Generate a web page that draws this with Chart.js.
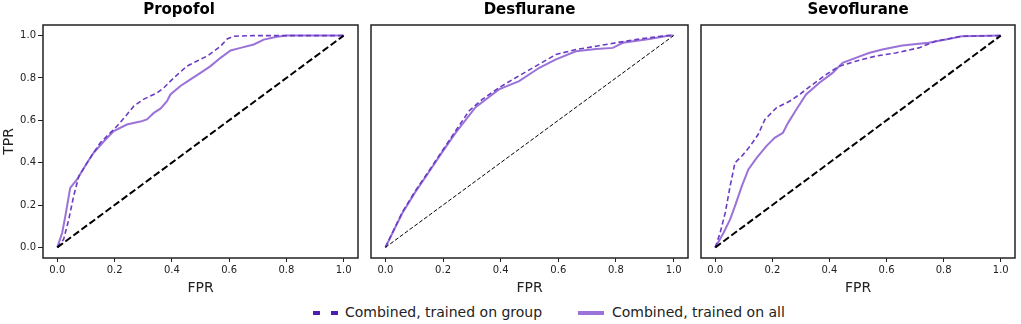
<!DOCTYPE html>
<html>
<head>
<meta charset="utf-8">
<script src="https://cdn.jsdelivr.net/npm/chart.js@4/dist/chart.umd.min.js"></script>
<style>
  html, body { margin:0; padding:0; background:#fff; }
  body { width:1021px; height:324px; position:relative; overflow:hidden; font-family:'DejaVu Sans', sans-serif; }
  .panel { position:absolute; top:0; height:300px; }
  .legend { position:absolute; top:302px; left:0; width:1021px; height:20px; font-size:14px; color:#222; }
  .sw { position:absolute; top:9px; height:4px; }
  .lbl { position:absolute; top:0; line-height:20px; white-space:nowrap; }
</style>
</head>
<body>
<div class="panel" style="left:0;width:362px"><canvas id="c1"></canvas></div>
<div class="panel" style="left:362px;width:330px"><canvas id="c2"></canvas></div>
<div class="panel" style="left:692px;width:329px"><canvas id="c3"></canvas></div>
<div class="legend">
  <div class="sw" style="left:313px;width:7px;background:#4b1faf"></div>
  <div class="sw" style="left:331px;width:7px;background:#4b1faf"></div>
  <div class="lbl" style="left:345px">Combined, trained on group</div>
  <div class="sw" style="left:578px;width:26px;background:#9b72d8"></div>
  <div class="lbl" style="left:612px">Combined, trained on all</div>
</div>
<script>
// ROC curves, [FPR, TPR]
const panelTitles = ['Propofol', 'Desflurane', 'Sevoflurane'];
const axisTicks = [0, 0.2, 0.4, 0.6, 0.8, 1.0];
const chance = [[0, 0], [1, 1]];

const propofolGroup = [[0,0],[0.022,0.038],[0.040,0.132],[0.057,0.242],[0.075,0.336],[0.086,0.36],[0.115,0.423],
  [0.150,0.494],[0.185,0.541],[0.208,0.572],[0.243,0.627],[0.267,0.667],[0.302,0.70],[0.349,0.73],[0.372,0.754],
  [0.407,0.801],[0.453,0.856],[0.488,0.88],[0.523,0.903],[0.547,0.927],[0.570,0.95],[0.593,0.984],[0.616,0.997],
  [0.686,1.0],[1,1]];
const propofolAll = [[0,0],[0.017,0.069],[0.028,0.148],[0.045,0.281],[0.069,0.321],[0.086,0.36],[0.104,0.40],
  [0.127,0.447],[0.162,0.50],[0.197,0.549],[0.243,0.58],[0.290,0.594],[0.313,0.604],[0.337,0.635],[0.36,0.655],
  [0.383,0.69],[0.395,0.722],[0.430,0.762],[0.465,0.793],[0.500,0.824],[0.535,0.856],[0.570,0.895],[0.605,0.930],
  [0.640,0.942],[0.686,0.958],[0.721,0.981],[0.767,0.994],[0.802,1.0],[1,1]];

const desfluraneGroup = [[0,0],[0.058,0.165],[0.104,0.267],[0.151,0.361],[0.197,0.455],[0.244,0.551],[0.290,0.644],
  [0.336,0.699],[0.394,0.754],[0.452,0.801],[0.522,0.856],[0.592,0.911],[0.661,0.934],[0.731,0.950],[0.800,0.966],
  [0.882,0.984],[0.974,1.0],[1,1]];
const desfluraneAll = [[0,0],[0.058,0.160],[0.104,0.262],[0.151,0.356],[0.197,0.450],[0.244,0.542],[0.313,0.662],
  [0.394,0.746],[0.464,0.785],[0.534,0.848],[0.592,0.888],[0.661,0.926],[0.731,0.937],[0.789,0.942],[0.824,0.966],
  [0.916,0.984],[0.986,1.0],[1,1]];

const sevofluraneGroup = [[0,0],[0.017,0.069],[0.035,0.164],[0.052,0.289],[0.069,0.40],[0.093,0.431],[0.122,0.478],
  [0.150,0.533],[0.174,0.604],[0.214,0.659],[0.260,0.69],[0.295,0.722],[0.341,0.769],[0.388,0.816],[0.434,0.855],
  [0.492,0.879],[0.562,0.903],[0.632,0.918],[0.713,0.942],[0.771,0.973],[0.863,0.997],[1,1]];
const sevofluraneAll = [[0,0],[0.029,0.069],[0.052,0.132],[0.069,0.195],[0.093,0.289],[0.116,0.368],[0.145,0.423],
  [0.179,0.478],[0.208,0.517],[0.237,0.541],[0.255,0.588],[0.284,0.651],[0.318,0.722],[0.365,0.777],[0.411,0.824],
  [0.446,0.871],[0.492,0.895],[0.538,0.918],[0.585,0.934],[0.655,0.953],[0.747,0.966],[0.817,0.984],[0.863,0.997],[1,1]];

const groupCurves = [propofolGroup, desfluraneGroup, sevofluraneGroup];
const allCurves = [propofolAll, desfluraneAll, sevofluraneAll];

const INK = '#222';
Chart.defaults.font.family = "'DejaVu Sans', sans-serif";
Chart.defaults.color = INK;

// matplotlib-like box around the plot area
const boxPlugin = {
  id: 'box',
  afterDraw(chart){
    const a = chart.chartArea, ctx = chart.ctx;
    ctx.save();
    ctx.strokeStyle = INK; ctx.lineWidth = 1.5;
    ctx.strokeRect(a.left, a.top, a.right - a.left, a.bottom - a.top);
    ctx.restore();
  }
};

const pts = arr => arr.map(p => ({x: p[0], y: p[1]}));
const setTicks = s => { s.ticks = axisTicks.map(v => ({value: v})); };

function makePanel(id, i){
  const first = i === 0;
  const thin = i === 1;
  new Chart(document.getElementById(id), {
    type: 'line',
    data: { datasets: [
      {data: pts(chance), borderColor:'#000', borderWidth: thin ? 1 : 2, borderDash: thin ? [4,2] : [7,3]},
      {data: pts(groupCurves[i]), borderColor:'#6a3cc4', borderWidth:1.6, borderDash:[5,3]},
      {data: pts(allCurves[i]), borderColor:'#9b72d8', borderWidth:2}
    ]},
    options: {
      responsive:true, maintainAspectRatio:false, animation:false,
      parsing:false,
      elements:{ point:{radius:0}, line:{tension:0, borderCapStyle:'butt'} },
      layout:{ padding:{ left: first ? 0 : 9, right: i === 2 ? 6 : 4, top:0, bottom:0 } },
      plugins:{
        legend:{display:false}, tooltip:{enabled:false},
        title:{display:true, text:panelTitles[i], font:{size:15, weight:'bold'}, color:'#000', padding:{top:1, bottom:6}}
      },
      scales:{
        x:{
          type:'linear', min:-0.05, max:1.05,
          afterBuildTicks:setTicks,
          afterFit: s => { s.height = 42; },
          grid:{drawOnChartArea:false, drawTicks:true, tickLength:4, color:INK},
          border:{display:false},
          ticks:{font:{size:10}, padding:2, maxRotation:0, callback: v => v.toFixed(1)},
          title:{display:true, text:'FPR', font:{size:14}, padding:{top:0, bottom:3.6}}
        },
        y:{
          type:'linear', min:-0.05, max:1.05, display:first,
          afterBuildTicks:setTicks,
          afterFit: s => { s.width = first ? 43 : 0; },
          grid:{drawOnChartArea:false, drawTicks:true, tickLength:5, color:INK},
          border:{display:false},
          ticks:{font:{size:10}, padding:2, callback: v => v.toFixed(1)},
          title:{display:true, text:'TPR', font:{size:14}, padding:{top:0.6, bottom:0}}
        }
      }
    },
    plugins:[boxPlugin]
  });
}
makePanel('c1', 0);
makePanel('c2', 1);
makePanel('c3', 2);
</script>
</body>
</html>
